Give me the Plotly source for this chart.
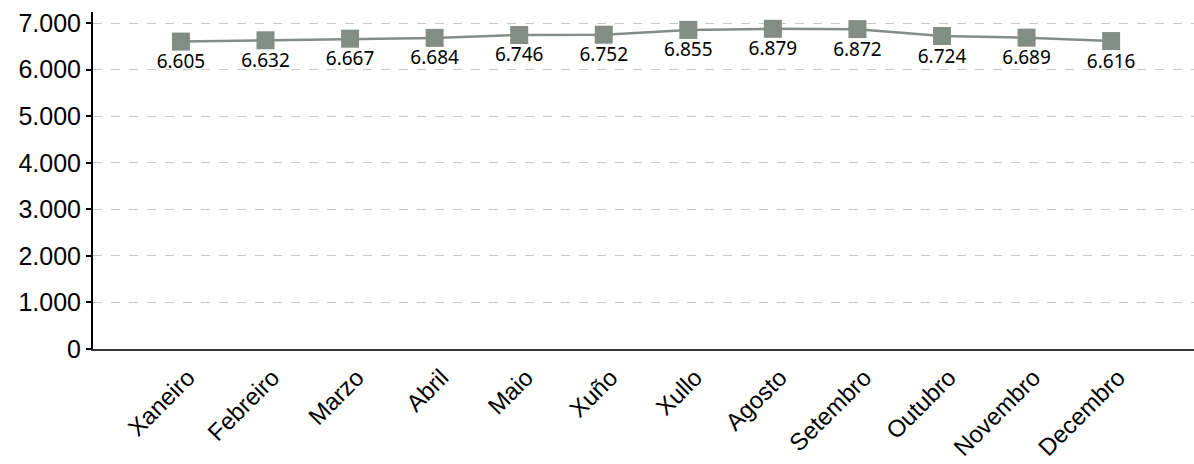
import plotly.graph_objects as go

months = ["Xaneiro", "Febreiro", "Marzo", "Abril", "Maio", "Xuño",
          "Xullo", "Agosto", "Setembro", "Outubro", "Novembro", "Decembro"]
values = [6605, 6632, 6667, 6684, 6746, 6752, 6855, 6879, 6872, 6724, 6689, 6616]
y_ticks = [0, 1000, 2000, 3000, 4000, 5000, 6000, 7000]

x_pos = list(range(len(months)))

fig = go.Figure()
fig.add_trace(go.Scatter(
    x=x_pos, y=values,
    mode="lines+markers+text",
    line=dict(color="#828d86", width=2.5),
    marker=dict(symbol="square", size=18, color="#828d86"),
    text=[f"{v:,}".replace(",", ".") for v in values],
    textposition="bottom center",
    textfont=dict(family="Noto Sans", size=19, color="#000000"),
    hoverinfo="skip",
    cliponaxis=False,
))

fig.update_layout(
    width=1194, height=464,
    margin=dict(l=93, r=0, t=12, b=115),
    plot_bgcolor="white", paper_bgcolor="white",
    showlegend=False,
    font=dict(family="Liberation Sans, Arial", color="#000000"),
)
fig.update_xaxes(
    automargin=False,
    range=[-1.04, 11.98],
    tickmode="array", tickvals=x_pos, ticktext=months,
    tickangle=-45,
    tickfont=dict(size=24, family="Liberation Sans"),
    ticklabelshift=7, ticklabelstandoff=3,
    showgrid=False, zeroline=False,
    showline=True, linecolor="#333333", linewidth=2,
    ticks="",
)
fig.update_yaxes(
    automargin=False,
    range=[0, 7240],
    tickmode="array", tickvals=y_ticks,
    ticktext=[f"{v:,}".replace(",", ".") for v in y_ticks],
    tickfont=dict(size=25, family="Liberation Sans"),
    showgrid=True, gridcolor="#c8c8c8", griddash="dash", gridwidth=1,
    zeroline=False,
    showline=True, linecolor="#000000", linewidth=2,
    ticks="outside", ticklen=5, tickwidth=2, tickcolor="#000000",
)

fig.write_html(
    "out.html",
    config={"displayModeBar": False},
    post_script="document.body.style.margin='0';document.body.style.overflow='hidden';",
)
